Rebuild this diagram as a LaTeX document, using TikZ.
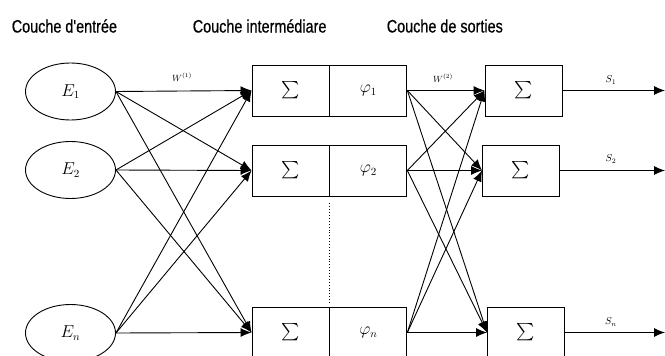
\documentclass[tikz,border=0pt]{standalone}
\usepackage{exscale}
\usepackage{fontspec}
\newfontfamily\headfont[FakeStretch=0.8, FakeBold=0.6]{Liberation Sans}
\usetikzlibrary{shapes.geometric, arrows.meta, positioning}

\begin{document}
\begin{tikzpicture}[x=1pt, y=-1pt, line width=0.9pt,
    inp/.style={draw, ellipse, minimum width=90pt, minimum height=57pt, font=\fontsize{16}{19}\selectfont},
    cell/.style={draw, minimum width=77pt, minimum height=51pt, inner sep=0pt, font=\fontsize{16}{19}\selectfont},
    head/.style={font=\headfont\fontsize{18}{20}\selectfont, anchor=west},
    wlbl/.style={font=\fontsize{9}{10}\selectfont},
    conn/.style={-{Latex[length=11pt,width=9pt]}}]
\useasboundingbox (0,0) rectangle (665,356);
% Headings
\node[head] (hin) at (8,26) {Couche d'entrée};
\node[head] (hhid) at (189,26) {Couche intermédiare};
\node[head] (hout) at (383,26) {Couche de sorties};
% Input layer
\node[inp] (e1) at (70.5,91.5) {$E_1$};
\node[inp] (e2) at (70.5,170) {$E_2$};
\node[inp] (e3) at (70.5,333) {$E_n$};
% Hidden layer
\node[cell] (s1) at (290.5,90.5) {$\sum$};
\node[cell, right=0pt of s1] (p1) {$\varphi_1$};
\node[cell] (s2) at (290.5,170.5) {$\sum$};
\node[cell, right=0pt of s2] (p2) {$\varphi_2$};
\node[cell] (s3) at (290.5,332.5) {$\sum$};
\node[cell, right=0pt of s3] (p3) {$\varphi_n$};
\draw[dotted, shorten <=7pt, shorten >=2pt] (s2.south east) -- (s3.north east);
% Output layer
\node[cell] (o1) at (523.5,90.5) {$\sum$};
\node[cell] (o2) at (521,170.5) {$\sum$};
\node[cell] (o3) at (526,332.5) {$\sum$};
\coordinate (t1) at (665,90.5);
\coordinate (t2) at (665,170.5);
\coordinate (t3) at (665,332.5);
% Connections
\foreach \a in {e1,e2,e3}
  \foreach \b in {s1,s2,s3}
    \draw[conn] (\a.east) -- (\b.west);
\foreach \a in {p1,p2,p3}
  \foreach \b in {o1,o2,o3}
    \draw[conn] (\a.east) -- (\b.west);
\foreach \i in {1,2,3}
  \draw[conn] (o\i.east) -- (t\i);
% Weight and output labels
\node[wlbl] (w1) at (182,77) {$W^{(1)}$};
\node[wlbl] (w2) at (443,78) {$W^{(2)}$};
\node[wlbl, font=\fontsize{10}{12}\selectfont] (l1) at (611,80) {$S_1$};
\node[wlbl, font=\fontsize{10}{12}\selectfont] (l2) at (611,159) {$S_2$};
\node[wlbl, font=\fontsize{10}{12}\selectfont] (l3) at (611,322) {$S_n$};
\end{tikzpicture}
\end{document}
